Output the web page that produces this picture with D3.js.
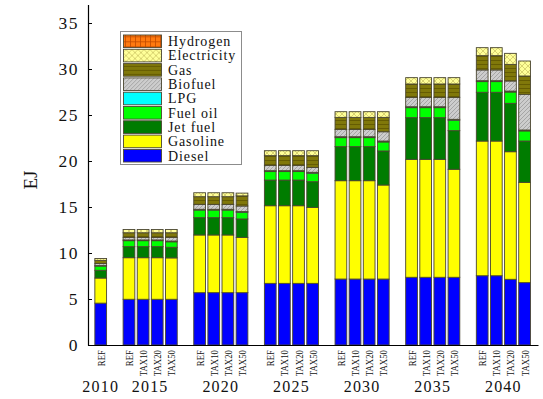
<!DOCTYPE html>
<html>
<head>
<meta charset="utf-8">
<script src="https://cdn.jsdelivr.net/npm/d3@7"></script>
<style>
  html, body { margin: 0; padding: 0; background: #fff; }
  svg { display: block; }
  text { font-family: "Liberation Serif", "Times New Roman", serif; fill: #111; }
</style>
</head>
<body>
<svg id="chart" width="543" height="399"></svg>
<script>
// Transport energy use by fuel, EJ — one bar per scenario and year
const years = ["2010", "2015", "2020", "2025", "2030", "2035", "2040"];
const scenarios = ["REF", "TAX10", "TAX20", "TAX50"];

// Bar order: 2010 REF, then REF/TAX10/TAX20/TAX50 for each later year
const barYears = ["2010",
  "2015", "2015", "2015", "2015",
  "2020", "2020", "2020", "2020",
  "2025", "2025", "2025", "2025",
  "2030", "2030", "2030", "2030",
  "2035", "2035", "2035", "2035",
  "2040", "2040", "2040", "2040"];
const barScenarios = ["REF",
  "REF", "TAX10", "TAX20", "TAX50",
  "REF", "TAX10", "TAX20", "TAX50",
  "REF", "TAX10", "TAX20", "TAX50",
  "REF", "TAX10", "TAX20", "TAX50",
  "REF", "TAX10", "TAX20", "TAX50",
  "REF", "TAX10", "TAX20", "TAX50"];

// Fuel series (EJ), stacked from the bottom up
const diesel      = [4.55, 4.97, 4.97, 4.97, 4.97, 5.69, 5.69, 5.69, 5.69, 6.70, 6.70, 6.70, 6.70, 7.17, 7.17, 7.17, 7.17, 7.36, 7.36, 7.36, 7.36, 7.53, 7.53, 7.14, 6.78];
const gasoline    = [2.73, 4.52, 4.52, 4.52, 4.50, 6.27, 6.27, 6.27, 6.01, 8.44, 8.44, 8.44, 8.26, 10.69, 10.69, 10.69, 10.22, 12.82, 12.82, 12.82, 11.74, 14.64, 14.64, 13.87, 10.90];
const jetFuel     = [0.84, 1.20, 1.20, 1.20, 1.15, 1.88, 1.88, 1.88, 2.00, 2.79, 2.79, 2.79, 2.79, 3.70, 3.70, 3.70, 3.70, 4.53, 4.53, 4.53, 4.20, 5.30, 5.30, 5.26, 4.49];
const fuelOil     = [0.46, 0.65, 0.65, 0.65, 0.60, 0.83, 0.83, 0.83, 0.72, 0.92, 0.92, 0.92, 0.92, 0.98, 0.98, 0.98, 0.98, 1.09, 1.09, 1.09, 1.13, 1.16, 1.16, 1.23, 1.10];
const lpg         = [0.05, 0.08, 0.08, 0.08, 0.08, 0.08, 0.08, 0.08, 0.08, 0.10, 0.10, 0.10, 0.10, 0.10, 0.10, 0.10, 0.10, 0.10, 0.10, 0.10, 0.10, 0.10, 0.10, 0.10, 0.10];
const biofuel     = [0.22, 0.28, 0.28, 0.28, 0.40, 0.54, 0.54, 0.54, 0.61, 0.58, 0.58, 0.58, 0.53, 0.80, 0.80, 0.80, 1.01, 1.02, 1.02, 1.02, 2.39, 1.17, 1.17, 1.10, 3.88];
const gas         = [0.35, 0.50, 0.50, 0.50, 0.50, 0.83, 0.83, 0.83, 1.10, 1.05, 1.05, 1.05, 1.28, 1.30, 1.30, 1.30, 1.56, 1.45, 1.45, 1.45, 1.45, 1.55, 1.55, 1.80, 1.99];
const electricity = [0.20, 0.35, 0.35, 0.35, 0.35, 0.43, 0.43, 0.43, 0.30, 0.54, 0.54, 0.54, 0.54, 0.62, 0.62, 0.62, 0.62, 0.69, 0.69, 0.69, 0.69, 0.87, 0.87, 1.20, 1.63];
const hydrogen    = [0, 0, 0, 0, 0, 0, 0, 0, 0, 0, 0, 0, 0, 0, 0, 0, 0, 0, 0, 0, 0, 0, 0, 0, 0];

const fuelNames = ["Diesel", "Gasoline", "Jet fuel", "Fuel oil", "LPG", "Biofuel", "Gas", "Electricity", "Hydrogen"];
const fuelValues = [diesel, gasoline, jetFuel, fuelOil, lpg, biofuel, gas, electricity, hydrogen];
const yTicks = [0, 5, 10, 15, 20, 25, 30, 35];

const svg = d3.select("#chart");
const defs = svg.append("defs");

// Hatched fills for the pattern-coded fuels
function hatch(id, bg, stroke, size, paths, sw) {
  const p = defs.append("pattern").attr("id", id)
    .attr("patternUnits", "userSpaceOnUse").attr("width", size).attr("height", size);
  p.append("rect").attr("width", size).attr("height", size).attr("fill", bg);
  paths.forEach(d => p.append("path").attr("d", d).attr("stroke", stroke)
    .attr("stroke-width", sw).attr("fill", "none"));
}
hatch("pat-hydrogen", "#ff7a10", "#c04a00", 5, ["M0,0.5H5", "M0.5,0V5"], 0.8);
hatch("pat-electricity", "#ffff99", "#c9c060", 6, ["M0,0L6,6", "M6,0L0,6"], 0.7);
hatch("pat-gas", "#80780a", "#5e5600", 4, ["M0,0.5H4"], 0.8);
hatch("pat-biofuel", "#cdcdcd", "#9a9a9a", 4, ["M-1,5L5,-1", "M3,5L5,3", "M-1,1L1,-1"], 0.8);

const fills = {
  "Diesel": "#0000ff",
  "Gasoline": "#ffff00",
  "Jet fuel": "#007c00",
  "Fuel oil": "#00ff00",
  "LPG": "#00ffff",
  "Biofuel": "url(#pat-biofuel)",
  "Gas": "url(#pat-gas)",
  "Electricity": "url(#pat-electricity)",
  "Hydrogen": "url(#pat-hydrogen)"
};

// Slot positions: one slot for 2010, then four bars per year with a blank slot between groups
const slotOf = barYears.map((yr, i) => {
  const g = years.indexOf(yr);
  if (g === 0) return 0;
  return 2 + (g - 1) * 5 + scenarios.indexOf(barScenarios[i]);
});

const x = d3.scaleLinear().domain([-0.9, 30.95]).range([88, 538]);
const y = d3.scaleLinear().domain([0, 37]).range([345, 4.6]);
const slotW = x(1) - x(0);
const barW = slotW * 0.83;

// Stack layout
const rows = barYears.map((yr, i) => {
  const r = { i };
  fuelNames.forEach((f, k) => r[f] = fuelValues[k][i]);
  return r;
});
const stacked = d3.stack().keys(fuelNames)(rows);

const bars = svg.append("g");
stacked.forEach(layer => {
  bars.append("g").selectAll("rect")
    .data(layer.filter(d => d[1] - d[0] > 0))
    .join("rect")
    .attr("x", d => x(slotOf[d.data.i]) - barW / 2)
    .attr("width", barW)
    .attr("y", d => y(d[1]))
    .attr("height", d => y(d[0]) - y(d[1]))
    .attr("fill", fills[layer.key])
    .attr("stroke", "#4a4630")
    .attr("stroke-width", 0.9);
});

// Axes
const yAxis = d3.axisLeft(y).tickValues(yTicks).tickSizeInner(-4).tickSizeOuter(0).tickPadding(9);
const gy = svg.append("g").attr("transform", "translate(88,0)").call(yAxis);
gy.select(".domain").attr("stroke", "#000").attr("stroke-width", 1.2);
gy.selectAll(".tick line").attr("stroke", "#000");
gy.selectAll(".tick text")
  .style("font-family", "'Liberation Serif', serif")
  .style("font-size", "17.5px").style("letter-spacing", "1.5px").attr("fill", "#111");

const xAxis = d3.axisBottom(x).tickValues([]).tickSizeOuter(0);
const gx = svg.append("g").attr("transform", "translate(0,345)").call(xAxis);
gx.select(".domain").attr("stroke", "#000").attr("stroke-width", 1.2);

// Scenario labels (rotated) under each bar
svg.append("g").selectAll("text")
  .data(barScenarios)
  .join("text")
  .attr("transform", (d, i) => `translate(${x(slotOf[i]) + 4},350) rotate(-90) scale(0.8,1)`)
  .attr("text-anchor", "end")
  .style("font-size", "11px")
  .text(d => d);

// Year labels centred under each group
svg.append("g").selectAll("text")
  .data(years)
  .join("text")
  .attr("x", (d, g) => {
    const idx = barYears.map((v, i) => v === d ? slotOf[i] : null).filter(v => v !== null);
    return x(d3.mean(idx));
  })
  .attr("y", 392)
  .attr("text-anchor", "middle")
  .style("font-size", "16px").style("letter-spacing", "1.2px")
  .text(d => d);

// Axis title
svg.append("text")
  .attr("transform", "translate(37,180) rotate(-90)")
  .attr("text-anchor", "middle")
  .style("font-size", "19px")
  .text("EJ");

// Legend, top entry = top of stack
const legendOrder = fuelNames.slice().reverse();
const lg = svg.append("g");
lg.append("rect").attr("x", 120.5).attr("y", 31.5).attr("width", 121).attr("height", 133)
  .attr("fill", "#fff").attr("stroke", "#8c8c8c").attr("stroke-width", 1);
const item = lg.selectAll("g.item").data(legendOrder).join("g").attr("class", "item")
  .attr("transform", (d, i) => `translate(0,${41.3 + i * 14.3})`);
item.append("rect").attr("x", 123.5).attr("y", -6.3).attr("width", 38).attr("height", 12.6)
  .attr("fill", d => fills[d]).attr("stroke", "#4a4630").attr("stroke-width", 0.9);
item.append("text").attr("x", 168).attr("y", 4.8)
  .style("font-size", "14px").style("letter-spacing", "0.9px")
  .text(d => d);
</script>
</body>
</html>
